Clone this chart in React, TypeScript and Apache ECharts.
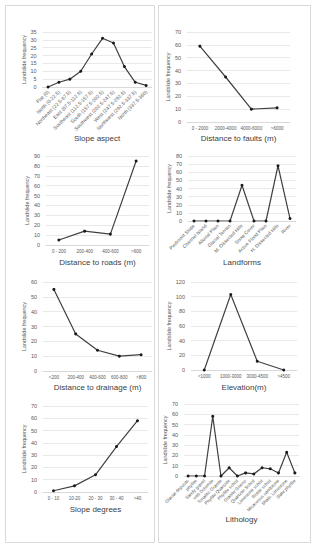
import React, { useEffect, useRef } from "react";
import * as echarts from "echarts";

const aspectCats = ["Flat (0)", "North (0-22.5)", "Northeast (22.5-67.5)", "East (67.5-112.5)", "Southeast (112.5-157.5)", "South (157.5-202.5)", "Southwest (202.5-247.5)", "West (247.5-292.5)", "Northwest (292.5-337.5)", "North (337.5-360)"];
const aspectVals = [0, 3, 5, 10, 21, 31, 28, 13, 3, 1];

const faultCats = ["0 - 2000", "2000-4000", "4000-6000", ">6000"];
const faultVals = [59, 35, 10, 11];

const roadCats = ["0 - 200", "200-400", "400-600", ">600"];
const roadVals = [5, 14, 11, 85];

const landCats = ["Piedmont Slope", "Channel Island", "Alluvial Plain", "Glacial Terrain", "M. Dissected Hills", "Snow Cover", "Active Flood Plain", "H. Dissected Hills", "River"];
const landVals = [0, 0, 0, 0, 44, 0, 0, 68, 3];

const drainCats = ["<200", "200-400", "400-600", "600-800", ">800"];
const drainVals = [55, 25, 14, 10, 11];

const elevCats = ["<1000", "1000-3000", "3000-4500", ">4500"];
const elevVals = [0, 103, 12, 0];

const slopeCats = ["0 - 10", "10-20", "20 - 30", "30 - 40", ">40"];
const slopeVals = [1, 5, 14, 37, 58];

const lithCats = ["Glacial deposits", "phyllite", "Sandy gravel", "with Dolomite", "Tonalitic Granite", "Phyllite Quartzite", "Phyllite schist", "Granite Gneiss", "Quartzite Schist", "Limestone schist", "Biotite schist", "Micaceous sandstone", "Shale, Limestone", "Slate phyllite"];
const lithVals = [0, 0, 0, 58, 0, 8, 0, 3, 2, 8, 7, 3, 23, 3];

const panels = [
  { cats: aspectCats, vals: aspectVals, title: "Slope aspect", max: 35, interval: 5, grid: [42.6, 32, 109, 55], rot: 45, lfs: 5, xGap: 46 },
  { cats: faultCats, vals: faultVals, title: "Distance to faults (m)", max: 70, interval: 10, grid: [187, 32, 103, 90], rot: 0, lfs: 4.5, xGap: 12 },
  { cats: roadCats, vals: roadVals, title: "Distance to roads (m)", max: 90, interval: 10, grid: [46, 156, 103, 89], rot: 0, lfs: 4.5, xGap: 13 },
  { cats: landCats, vals: landVals, title: "Landforms", max: 80, interval: 10, grid: [188, 156, 108, 65], rot: 45, lfs: 4.8, xGap: 37 },
  { cats: drainCats, vals: drainVals, title: "Distance to drainage (m)", max: 60, interval: 10, grid: [43, 282, 109, 89], rot: 0, lfs: 4.5, xGap: 12 },
  { cats: elevCats, vals: elevVals, title: "Elevation(m)", max: 120, interval: 20, grid: [191, 282, 106, 88], rot: 0, lfs: 4.5, xGap: 13 },
  { cats: slopeCats, vals: slopeVals, title: "Slope degrees", max: 70, interval: 10, grid: [43, 406, 105, 86], rot: 0, lfs: 4.5, xGap: 13 },
  { cats: lithCats, vals: lithVals, title: "Lithology", max: 70, interval: 10, grid: [184, 404, 115, 72], rot: 45, lfs: 4.5, xGap: 33 },
];

const FONT = "Liberation Sans";
const GRAY = "#595959";

export default function App() {
  const ref = useRef<HTMLDivElement>(null);
  useEffect(() => {
    if (!ref.current) return;
    const chart = echarts.init(ref.current, undefined, { renderer: "svg" });
    const option: any = {
      animation: false,
      backgroundColor: "#ffffff",
      textStyle: { fontFamily: FONT },
      graphic: [
        { type: "rect", shape: { x: 5.5, y: 5.5, width: 149, height: 537 }, style: { fill: "none", stroke: "#d9d9d9", lineWidth: 1 } },
        { type: "rect", shape: { x: 158.5, y: 5.5, width: 152, height: 537 }, style: { fill: "none", stroke: "#d9d9d9", lineWidth: 1 } },
      ],
      grid: panels.map((p) => ({ left: p.grid[0], top: p.grid[1], width: p.grid[2], height: p.grid[3], containLabel: false })),
      xAxis: panels.map((p, i) => ({
        type: "category",
        gridIndex: i,
        data: p.cats,
        boundaryGap: true,
        axisLine: { show: true, lineStyle: { color: "#d9d9d9", width: 1 } },
        axisTick: { show: false },
        axisLabel: { interval: 0, rotate: p.rot, fontSize: p.lfs, color: GRAY, margin: 4, fontFamily: FONT },
        name: p.title,
        nameLocation: "middle",
        nameGap: p.xGap,
        nameTextStyle: { fontSize: 8, color: "#404040", fontFamily: FONT },
      })),
      yAxis: panels.map((p, i) => ({
        type: "value",
        gridIndex: i,
        min: 0,
        max: p.max,
        interval: p.interval,
        axisLine: { show: false },
        axisTick: { show: false },
        splitLine: { show: true, lineStyle: { color: "#e3e3e3", width: 0.8 } },
        axisLabel: { fontSize: 5.5, color: GRAY, margin: 6, fontFamily: FONT },
        name: "Landslide frequency",
        nameLocation: "middle",
        nameRotate: 90,
        nameGap: 14,
        nameTextStyle: { fontSize: 5.5, color: GRAY, fontFamily: FONT },
      })),
      series: panels.map((p, i) => ({
        type: "line",
        xAxisIndex: i,
        yAxisIndex: i,
        data: p.vals,
        symbol: "circle",
        symbolSize: 3,
        itemStyle: { color: "#1a1a1a" },
        lineStyle: { color: "#404040", width: 1.2 },
      })),
    };
    chart.setOption(option);
    return () => chart.dispose();
  }, []);
  return <div ref={ref} style={{ position: "fixed", left: 0, top: 0, width: 317, height: 550 }} />;
}
